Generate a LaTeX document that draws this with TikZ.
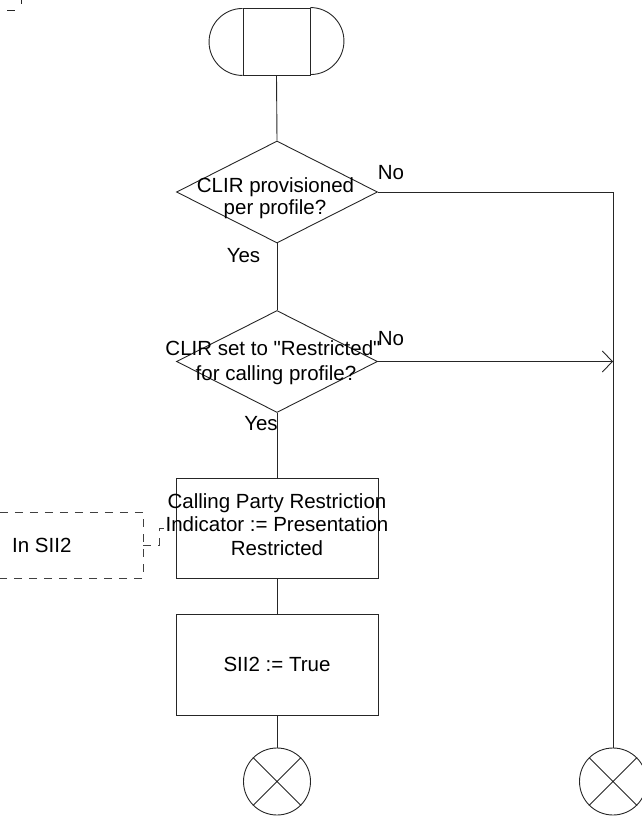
\documentclass[tikz,border=0pt]{standalone}
\usepackage{fontspec}
\setmainfont{Liberation Sans}[Ligatures=TeXOff]
\usetikzlibrary{shapes.geometric,arrows.meta}
\begin{document}
\begin{tikzpicture}[x=1pt,y=-1pt,
  ln/.style={line width=0.9pt, draw=black!85},
  cmtln/.style={line width=0.9pt, draw=black!75, dash pattern=on 8pt off 7pt},
  txt/.style={font=\fontsize{20.5}{22}\selectfont, inner sep=0pt, anchor=base},
  dec/.style={diamond, ln, minimum width=201pt, minimum height=102pt, inner sep=0pt},
  task/.style={rectangle, ln, minimum width=202pt, minimum height=100pt, inner sep=0pt},
  endc/.style={circle, ln, minimum size=67pt, inner sep=0pt},
  term/.style={rectangle, ln, minimum width=67pt, minimum height=67pt, inner sep=0pt},
  tip/.style={-{Straight Barb[length=10pt,width=21pt]}}]
\useasboundingbox (0,0) rectangle (642,817);

% corner marks
\draw[ln] (7,10) -- (15,10);
\draw[ln] (21,0) -- (21,4);

% start
\node[term] (start) at (276.5,41.5) {};
\draw[ln] (start.north east) arc[start angle=90, end angle=-90, radius=33.5pt];
\draw[ln] (start.south west) arc[start angle=270, end angle=90, radius=33.5pt];

% decisions
\node[dec] (d1) at (277,192) {};
\node[txt] (d1a) at (275.5,192.5) {CLIR provisioned};
\node[txt] (d1b) at (275,214) {per profile?};

\node[dec] (d2) at (277,361.5) {};
\node[txt] (d2a) at (273,355) {CLIR set to \symbol{34}Restricted\symbol{34}};
\node[txt] (d2b) at (276,380.5) {for calling profile?};

% tasks
\node[task] (b1) at (277,528) {};
\node[txt] (b1a) at (277,508) {Calling Party Restriction};
\node[txt] (b1b) at (277,531.5) {Indicator := Presentation};
\node[txt] (b1c) at (277,555) {Restricted};

\node[task, minimum height=101pt] (b2) at (277,664.5) {};
\node[txt] (b2a) at (277,671) {SII2 := True};

% ends
\node[endc] (e1) at (277,781.5) {};
\node[endc] (e2) at (613,781.5) {};
\draw[ln] (e1.north west) -- (e1.south east) (e1.north east) -- (e1.south west);
\draw[ln] (e2.north west) -- (e2.south east) (e2.north east) -- (e2.south west);

% comment
\node[minimum width=203pt, minimum height=65pt, inner sep=0pt] (cmt) at (41.5,545.5) {};
\draw[cmtln] (cmt.north west) -- (cmt.north east) -- (cmt.south east) -- (cmt.south west);
\node[txt, anchor=base west] (cmttxt) at (12,552) {In SII2};
\coordinate (br) at (159,528);
\draw[cmtln] (cmt.east) -| (br) -- ++(6,0);

% connectors
\draw[ln] (start.south) -- (d1.north);
\draw[ln] (d1.south) -- (d2.north);
\draw[ln] (d2.south) -- (b1.north);
\draw[ln] (b1.south) -- (b2.north);
\draw[ln] (b2.south) -- (e1.north);
\draw[ln] (d1.east) -| (e2.north);
\draw[ln, tip] (d2.east) -- (d2.east -| e2.north);

% labels
\node[txt] (no1) at (391,179) {No};
\node[txt] (no2) at (391,345) {No};
\node[txt] (yes1) at (243.5,262) {Yes};
\node[txt] (yes2) at (261,430) {Yes};
\end{tikzpicture}
\end{document}
